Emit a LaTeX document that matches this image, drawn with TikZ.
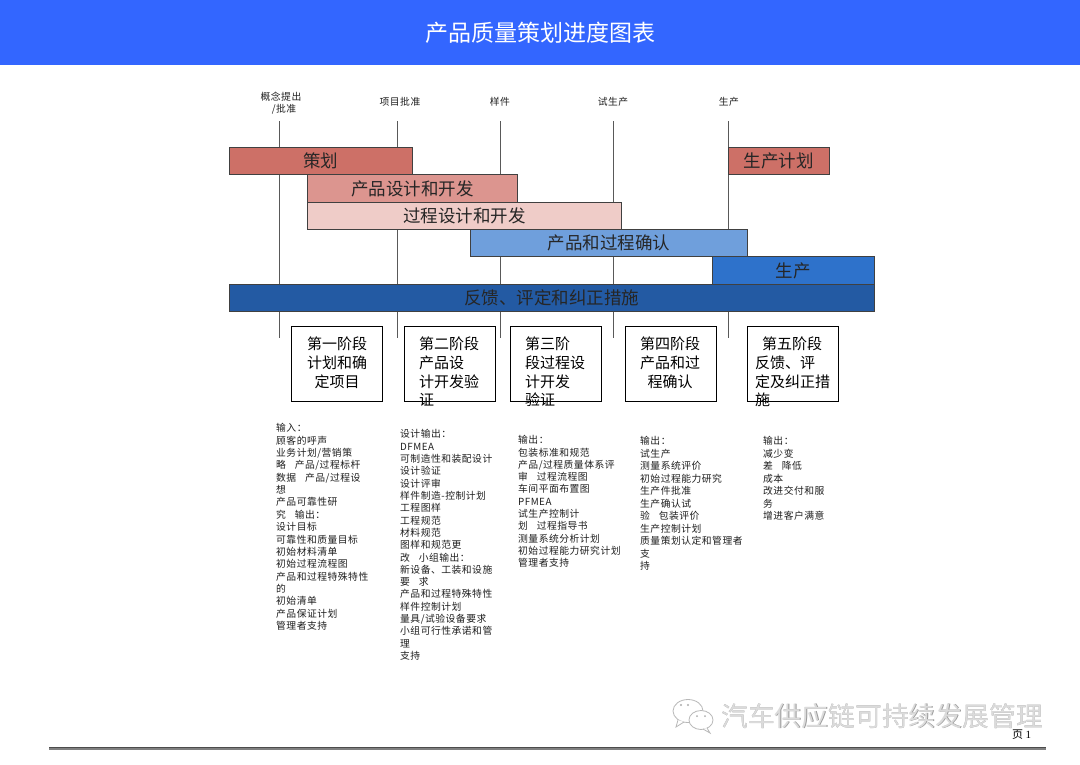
\documentclass[tikz,border=0pt]{standalone}
\usepackage{fontspec}
\setmainfont{Noto Sans CJK SC}
\newfontfamily\smallcjk[LetterSpace=5]{Noto Sans CJK SC}
\newfontfamily\serifnum{Liberation Serif}
\definecolor{hdr}{HTML}{3366FF}
\definecolor{barA}{HTML}{CD7067}
\definecolor{barB}{HTML}{DC958F}
\definecolor{barC}{HTML}{EFCCC8}
\definecolor{barD}{HTML}{6F9FDC}
\definecolor{barE}{HTML}{2E72CB}
\definecolor{barF}{HTML}{235AA3}
\newcommand{\gapx}{\hspace{0.9em}}
\begin{document}
\begin{tikzpicture}[x=1pt,y=-1pt,
  bar/.style={draw=black!75, line width=0.8pt, anchor=north west, inner sep=0pt,
    font=\fontsize{17.5}{18}\selectfont, text=black!85, text height=15.4pt, text depth=2.1pt},
  stagebox/.style={draw=black, line width=0.8pt, fill=white, anchor=north west,
    minimum width=91pt, minimum height=75pt, inner sep=0pt},
  stxt/.style={font=\fontsize{15}{16}\selectfont, inner sep=0pt, text height=13.2pt, text depth=1.8pt, text=black},
  small/.style={font=\smallcjk\fontsize{9.8}{10}\selectfont, inner sep=0pt, anchor=west,
    text height=8.6pt, text depth=1.2pt, text=black!88},
  mile/.style={font=\smallcjk\fontsize{9.8}{10}\selectfont, inner sep=0pt,
    text height=8.6pt, text depth=1.2pt, text=black!88},
  vline/.style={draw=black!65, line width=0.9pt},
  wmark/.style={font=\fontsize{26.8}{28}\selectfont, inner sep=0pt, anchor=west}]
\useasboundingbox (0,0) rectangle (1080,764);
\fill[white] (0,0) rectangle (1080,764);
% header
\fill[hdr] (0,0) rectangle (1080,65);
\node[text=white, font=\fontsize{23}{24}\selectfont, inner sep=0pt, text height=20.2pt, text depth=2.8pt] (title) at (540,33) {产品质量策划进度图表};
% milestones
\node[mile] (m1a) at (281,97) {概念提出};
\node[mile] (m1b) at (284,109) {/批准};
\node[mile] (m2) at (400,102) {项目批准};
\node[mile] (m3) at (500,102) {样件};
\node[mile] (m4) at (613,102) {试生产};
\node[mile] (m5) at (729,102) {生产};
% vertical lines
\foreach \n/\x in {1/279,2/397,3/500,4/613,5/728}{
  \coordinate (t\n) at (\x,121);
  \coordinate (e\n) at (\x,338);
  \draw[vline] (t\n) -- (e\n);
}
% bars
\node[bar, fill=barA, minimum width=183pt, minimum height=27pt] (b1) at (229,147) {策划};
\node[bar, fill=barA, minimum width=101pt, minimum height=27pt] (b1b) at (728,147) {生产计划};
\node[bar, fill=barB, minimum width=210pt, minimum height=28pt] (b2) at (307,174) {产品设计和开发};
\node[bar, fill=barC, minimum width=314pt, minimum height=27pt] (b3) at (307,202) {过程设计和开发};
\node[bar, fill=barD, minimum width=277pt, minimum height=27pt] (b4) at (470,229) {产品和过程确认};
\node[bar, fill=barE, minimum width=162pt, minimum height=28pt] (b5) at (712,256) {生产};
\node[bar, fill=barF, minimum width=645pt, minimum height=27pt] (b6) at (229,284) {反馈、评定和纠正措施};
% stage boxes
\node[stagebox] (s1) at (291,326) {};
\node[stagebox] (s2) at (404,326) {};
\node[stagebox] (s3) at (510,326) {};
\node[stagebox] (s4) at (625,326) {};
\node[stagebox] (s5) at (747,326) {};
\node[stxt] (s1a) at (337,344) {第一阶段};
\node[stxt] (s1b) at (337,363) {计划和确};
\node[stxt] (s1c) at (337,382) {定项目};
\node[stxt, anchor=west] (s2a) at (419,344) {第二阶段};
\node[stxt, anchor=west] (s2b) at (419,363) {产品设};
\node[stxt, anchor=west] (s2c) at (419,382) {计开发验};
\node[stxt, anchor=west] (s2d) at (419,400) {证};
\node[stxt, anchor=west] (s3a) at (525,344) {第三阶};
\node[stxt, anchor=west] (s3b) at (525,363) {段过程设};
\node[stxt, anchor=west] (s3c) at (525,382) {计开发};
\node[stxt, anchor=west] (s3d) at (525,400) {验证};
\node[stxt] (s4a) at (670,344) {第四阶段};
\node[stxt] (s4b) at (670,363) {产品和过};
\node[stxt] (s4c) at (670,382) {程确认};
\node[stxt, anchor=west] (s5a) at (762,344) {第五阶段};
\node[stxt, anchor=west] (s5b) at (755,363) {反馈、评};
\node[stxt, anchor=west] (s5c) at (755,382) {定及纠正措};
\node[stxt, anchor=west] (s5d) at (755,400) {施};
% column texts
\foreach \t [count=\i] in {输入：,顾客的呼声,业务计划/营销策,略\gapx 产品/过程标杆,数据\gapx 产品/过程设,想,产品可靠性研,究\gapx 输出：,设计目标,可靠性和质量目标,初始材料清单,初始过程流程图,产品和过程特殊特性,的,初始清单,产品保证计划,管理者支持}
  \node[small] (ca\i) at (276,{428+12.375*(\i-1)}) {\t};
\foreach \t [count=\i] in {设计输出：,DFMEA,可制造性和装配设计,设计验证,设计评审,样件制造-控制计划,工程图样,工程规范,材料规范,图样和规范更,改\gapx 小组输出：,新设备、工装和设施,要\gapx 求,产品和过程特殊特性,样件控制计划,量具/试验设备要求,小组可行性承诺和管,理,支持}
  \node[small] (cb\i) at (400,{434+12.33*(\i-1)}) {\t};
\foreach \t [count=\i] in {输出：,包装标准和规范,产品/过程质量体系评,审\gapx 过程流程图,车间平面布置图,PFMEA,试生产控制计,划\gapx 过程指导书,测量系统分析计划,初始过程能力研究计划,管理者支持}
  \node[small] (cc\i) at (518,{440+12.3*(\i-1)}) {\t};
\foreach \t [count=\i] in {输出：,试生产,测量系统评价,初始过程能力研究,生产件批准,生产确认试,验\gapx 包装评价,生产控制计划,质量策划认定和管理者,支,持}
  \node[small] (cd\i) at (640,{441+12.5*(\i-1)}) {\t};
\foreach \t [count=\i] in {输出：,减少变,差\gapx 降低,成本,改进交付和服,务,增进客户满意}
  \node[small] (ce\i) at (763,{441+12.5*(\i-1)}) {\t};
% watermark icon
\draw[black!28, line width=0.8pt, fill=white] (688,711) ellipse [x radius=15, y radius=11.5];
\draw[black!28, line width=0.8pt, fill=white] (678,720) -- (676,727) -- (684,722);
\draw[black!28, line width=0.8pt, fill=white] (701,720) ellipse [x radius=12, y radius=9.5];
\draw[black!28, line width=0.8pt, fill=white] (707,728) -- (710,733) -- (703,729);
\fill[black!32] (681,705) circle (1.1) (688,705) circle (1.1) (697,716) circle (1) (705,716) circle (1);
% watermark text
\node[wmark, text=black!40] (wms) at (721.5,716.5) {汽车供应链可持续发展管理};
\node[wmark, text=black!14] (wm) at (721,716) {汽车供应链可持续发展管理};
% page number
\node[font=\fontsize{11}{12}\selectfont, inner sep=0pt, anchor=west, text=black] (pg) at (1012,735) {页 {\serifnum 1}};
% bottom rule
\coordinate (r1) at (49,748);
\coordinate (r2) at (1046,748);
\draw[line width=3pt, draw=black!50] (r1) -- (r2);
\draw[line width=0.6pt, draw=black!70] ([yshift=1.2pt]r1) -- ([yshift=1.2pt]r2);
\end{tikzpicture}
\end{document}
